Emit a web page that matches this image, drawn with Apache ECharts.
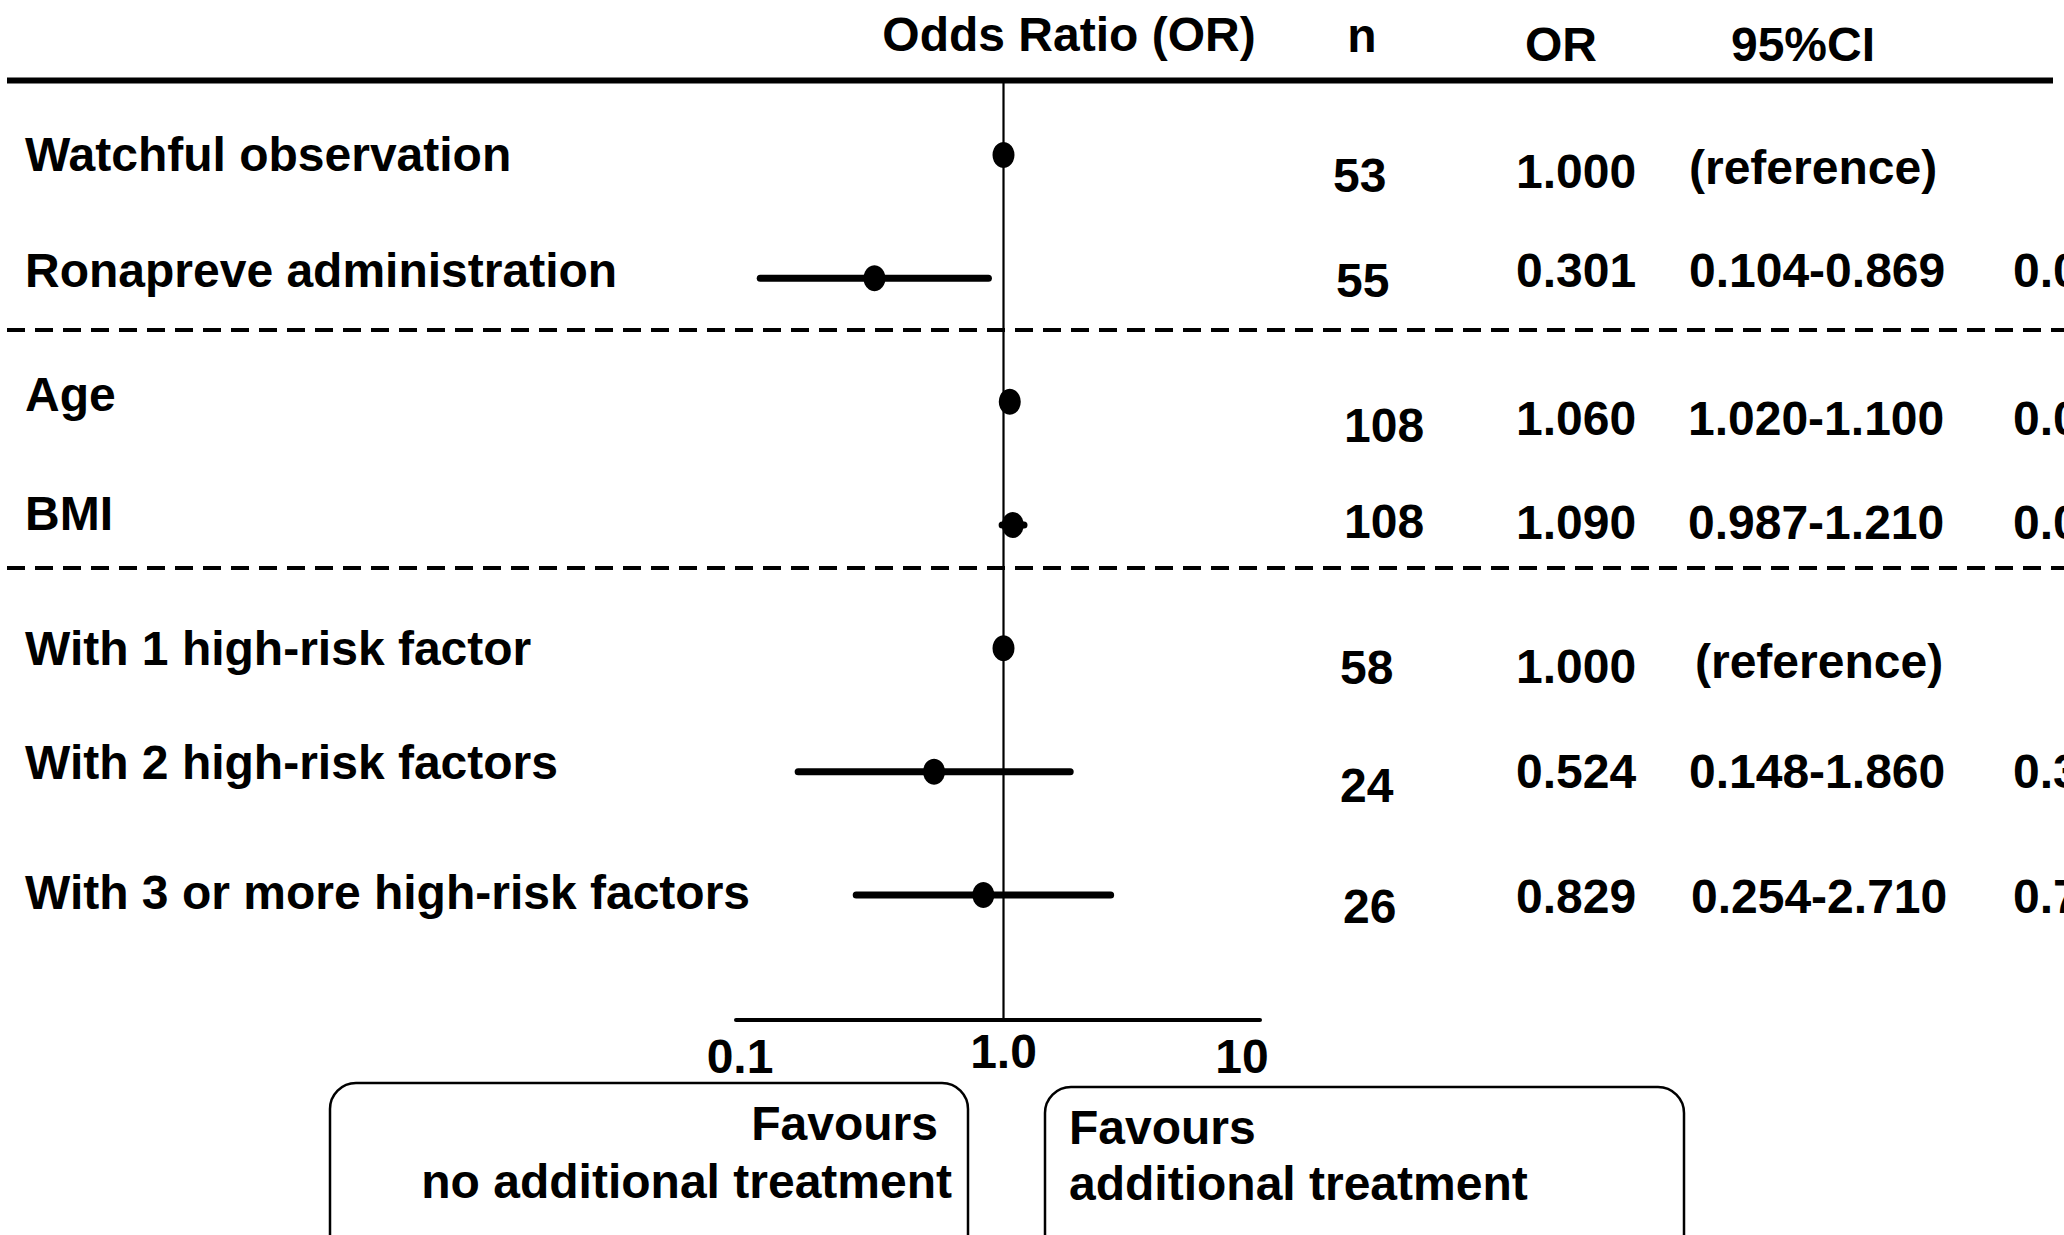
<!DOCTYPE html>
<html>
<head>
<meta charset="utf-8">
<script src="https://cdn.jsdelivr.net/npm/echarts@6/dist/echarts.min.js"></script>
<style>
html,body{margin:0;padding:0;background:#fff;}
#chart{width:2064px;height:1235px;}
</style>
</head>
<body>
<div id="chart"></div>
<script>
// ---------- data ----------
const rowLabels = [
  'Watchful observation',
  'Ronapreve administration',
  'Age',
  'BMI',
  'With 1 high-risk factor',
  'With 2 high-risk factors',
  'With 3 or more high-risk factors'
];
const nValues  = [53, 55, 108, 108, 58, 24, 26];
const orValues = [1.000, 0.301, 1.060, 1.090, 1.000, 0.524, 0.829];
const ciLow    = [null, 0.104, 1.020, 0.987, null, 0.148, 0.254];
const ciHigh   = [null, 0.869, 1.100, 1.210, null, 1.860, 2.710];
const pValues  = ['', '0.027', '0.003', '0.097', '', '0.317', '0.756'];
const referenceText = '(reference)';
const tickValues = [0.1, 1, 10];
const tickLabels = ['0.1', '1.0', '10'];
const headerTitle = 'Odds Ratio (OR)';
const headerN = 'n';
const headerOR = 'OR';
const headerCI = '95%CI';
const leftBoxLines = ['Favours', 'no additional treatment'];
const rightBoxLines = ['Favours', 'additional treatment'];

// ---------- layout / style ----------
const FONT_FAMILY = '"Liberation Sans", Arial, Helvetica, sans-serif';
const FS = 48;
const FONT = 'bold ' + FS + 'px ' + FONT_FAMILY;
const LAYOUT = {
  gridLeft: 736, gridRight: 804, gridTop: 93.33, gridHeight: 863.33,
  axisOffset: 63.4,
  colN: 1339, colOR: 1516, colCI: 1689, colP: 2013,
  dxN:  [-6, -3, 5, 5, 1, 1, 4],
  dxCI: [0, 0, -1, -1, 6, 0, 2],
  dyN:  [21, 2, 24, -3, 19, 14, 12],
  dyOR: [17, -8, 17, -2, 18, 0, 2],
  dyCI: [13, -8, 17, -2, 13, 0, 2],
  labelLift: [0, 8, 7, 11, 0, 9, 2]
};

function textEl(x, y, text, align) {
  return {
    type: 'text', x: x, y: y,
    style: {
      text: text, font: FONT, fill: '#000',
      textAlign: align, align: align,
      textVerticalAlign: 'middle', verticalAlign: 'middle'
    }
  };
}

const rowRich = {};
rowLabels.forEach(function (l, i) {
  rowRich['r' + i] = {
    fontSize: FS, fontWeight: 'bold', fontFamily: FONT_FAMILY, color: '#000',
    padding: [0, 0, LAYOUT.labelLift[i] * 2, 0]
  };
});
const tickRich = {
  t0: {fontSize: FS, fontWeight: 'bold', fontFamily: FONT_FAMILY, color: '#000', padding: [5, 32, 0, 0]},
  t1: {fontSize: FS, fontWeight: 'bold', fontFamily: FONT_FAMILY, color: '#000', padding: [0, 0, 0, 0]},
  t2: {fontSize: FS, fontWeight: 'bold', fontFamily: FONT_FAMILY, color: '#000', padding: [5, 18, 0, 0]}
};

const scatterData = rowLabels.map(function (l, i) { return [orValues[i], l]; });
const ciData = rowLabels.map(function (l, i) { return [ciLow[i], ciHigh[i], l]; });
const tableData = rowLabels.map(function (l, i) { return [1, l]; });

const chart = echarts.init(document.getElementById('chart'), null, {renderer: 'svg'});

const option = {
  animation: false,
  backgroundColor: '#fff',
  textStyle: {fontFamily: FONT_FAMILY},
  grid: {
    left: LAYOUT.gridLeft, right: LAYOUT.gridRight,
    top: LAYOUT.gridTop, height: LAYOUT.gridHeight,
    containLabel: false, outerBoundsMode: 'none'
  },
  xAxis: {
    type: 'log', logBase: 10,
    min: 0.0830, max: 10.875,
    offset: LAYOUT.axisOffset,
    axisLine: {show: true, lineStyle: {color: '#000', width: 4}},
    axisTick: {show: false},
    splitLine: {show: false},
    axisLabel: {
      show: true, margin: 7,
      showMinLabel: false, showMaxLabel: false,
      fontSize: FS, fontWeight: 'bold', color: '#000',
      formatter: function (v) {
        const i = tickValues.findIndex(function (t) { return Math.abs(Math.log10(v) - Math.log10(t)) < 1e-6; });
        if (i < 0) return '';
        return '{t' + i + '|' + tickLabels[i] + '}';
      },
      rich: tickRich
    }
  },
  yAxis: {
    type: 'category', inverse: true, data: rowLabels,
    axisLine: {show: false}, axisTick: {show: false}, splitLine: {show: false},
    axisLabel: {
      interval: 0, align: 'left', margin: LAYOUT.gridLeft - 25,
      fontSize: FS, fontWeight: 'bold', color: '#000',
      formatter: function (v, i) { return '{r' + i + '|' + v + '}'; },
      rich: rowRich
    }
  },
  series: [
    {
      // vertical reference line at OR = 1
      type: 'custom', name: 'ref', silent: true, z: 1,
      data: [[1, rowLabels[0]]],
      encode: {x: 0, y: 1},
      renderItem: function (params, api) {
        const cs = params.coordSys;
        const x = api.coord([1, 0])[0];
        return {
          type: 'line',
          shape: {x1: x, y1: cs.y - 12.5, x2: x, y2: cs.y + cs.height + LAYOUT.axisOffset},
          style: {stroke: '#000', lineWidth: 2.2}
        };
      }
    },
    {
      // 95% CI whiskers
      type: 'custom', name: 'ci', silent: true, z: 2,
      data: ciData,
      encode: {x: [0, 1], y: 2},
      renderItem: function (params, api) {
        const lo = api.value(0), hi = api.value(1);
        if (lo == null || hi == null || isNaN(lo) || isNaN(hi)) return {type: 'group', children: []};
        const row = api.value(2);
        const p1 = api.coord([lo, row]);
        const p2 = api.coord([hi, row]);
        return {
          type: 'line',
          shape: {x1: p1[0], y1: p1[1], x2: p2[0], y2: p2[1]},
          style: {stroke: '#000', lineWidth: 7, lineCap: 'round'}
        };
      }
    },
    {
      type: 'scatter', name: 'OR', z: 3, silent: true,
      data: scatterData,
      symbol: 'circle', symbolSize: [22, 26],
      itemStyle: {color: '#000', opacity: 1}
    },
    {
      // table columns: n, OR, 95%CI, p
      type: 'custom', name: 'table', silent: true, z: 4,
      data: tableData,
      encode: {x: 0, y: 1},
      renderItem: function (params, api) {
        const i = params.dataIndex;
        const y = api.coord([1, api.value(1)])[1];
        const ciStr = (ciLow[i] == null) ? referenceText
          : ciLow[i].toFixed(3) + '-' + ciHigh[i].toFixed(3);
        const kids = [
          textEl(LAYOUT.colN + LAYOUT.dxN[i], y + LAYOUT.dyN[i], String(nValues[i]), 'left'),
          textEl(LAYOUT.colOR, y + LAYOUT.dyOR[i], orValues[i].toFixed(3), 'left'),
          textEl(LAYOUT.colCI + LAYOUT.dxCI[i], y + LAYOUT.dyCI[i], ciStr, 'left')
        ];
        if (pValues[i]) kids.push(textEl(LAYOUT.colP, y + LAYOUT.dyCI[i], pValues[i], 'left'));
        return {type: 'group', children: kids};
      }
    }
  ],
  graphic: [
    textEl(1069, 34, headerTitle, 'center'),
    textEl(1362, 35, headerN, 'center'),
    textEl(1561, 44, headerOR, 'center'),
    textEl(1803, 44, headerCI, 'center'),
    {type: 'line', shape: {x1: 7, y1: 80.5, x2: 2053, y2: 80.5}, style: {stroke: '#000', lineWidth: 6}},
    {type: 'line', shape: {x1: 7, y1: 330, x2: 2064, y2: 330}, style: {stroke: '#000', lineWidth: 4, lineDash: [18, 10]}},
    {type: 'line', shape: {x1: 7, y1: 568, x2: 2064, y2: 568}, style: {stroke: '#000', lineWidth: 4, lineDash: [18, 10]}},
    {type: 'rect', shape: {x: 330, y: 1083, width: 638, height: 250, r: 26}, style: {fill: 'none', stroke: '#000', lineWidth: 2.5}},
    {type: 'rect', shape: {x: 1045, y: 1087, width: 639, height: 250, r: 26}, style: {fill: 'none', stroke: '#000', lineWidth: 2.5}},
    textEl(938, 1123, leftBoxLines[0], 'right'),
    textEl(952, 1181, leftBoxLines[1], 'right'),
    textEl(1069, 1127, rightBoxLines[0], 'left'),
    textEl(1069, 1183, rightBoxLines[1], 'left')
  ]
};
chart.setOption(option);
</script>
</body>
</html>
